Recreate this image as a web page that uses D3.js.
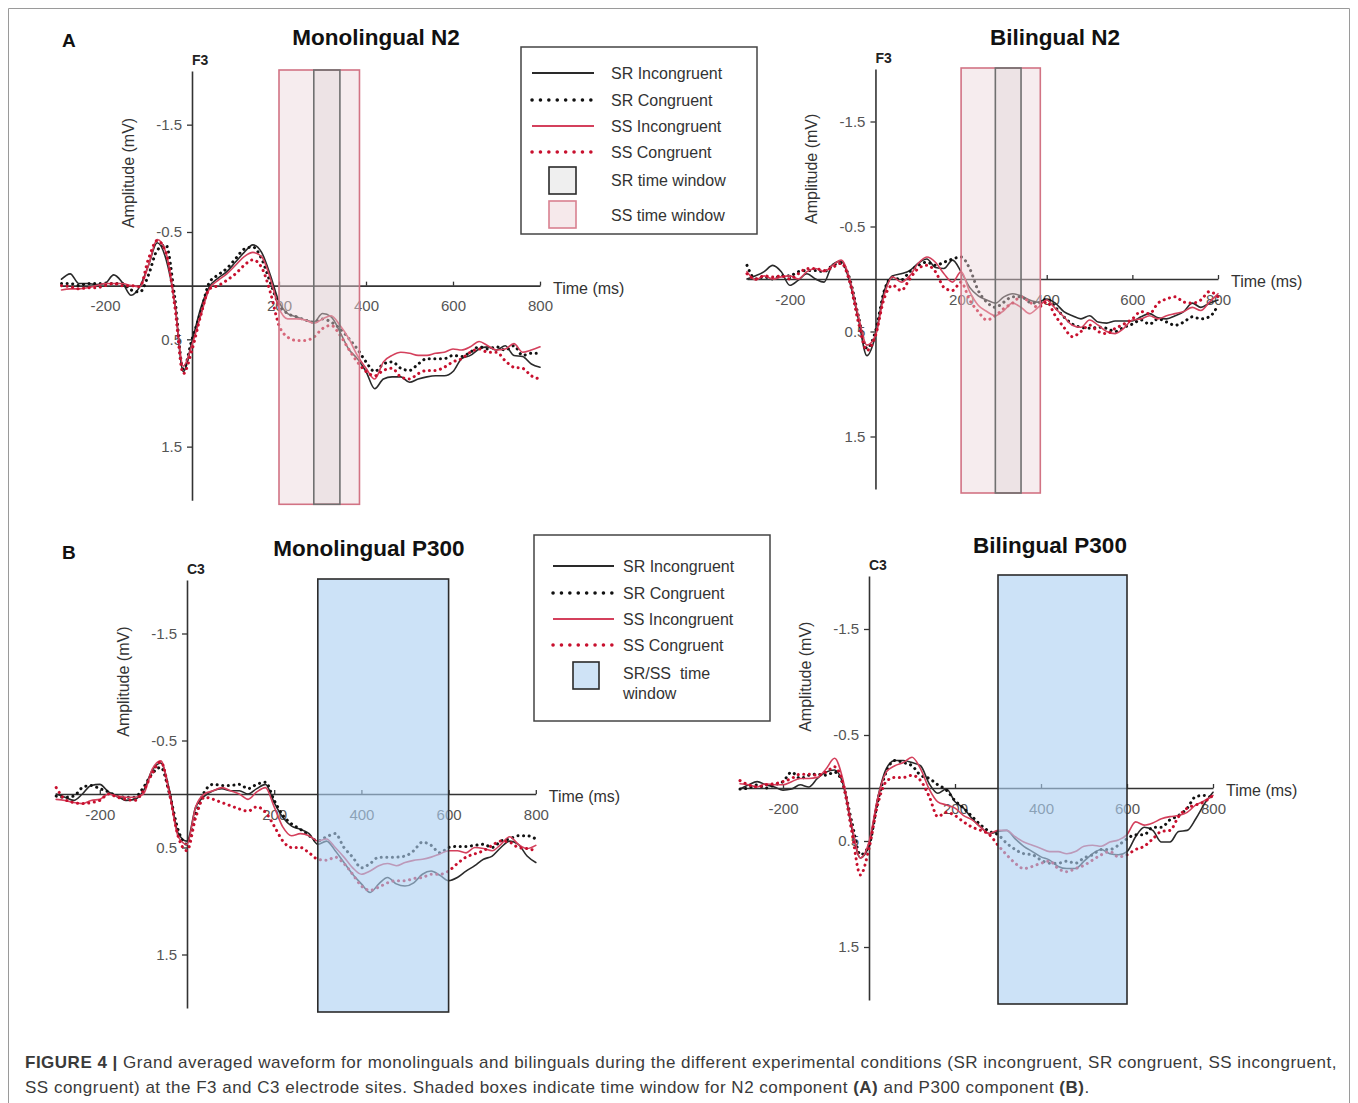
<!DOCTYPE html>
<html>
<head>
<meta charset="utf-8">
<script src="https://cdn.jsdelivr.net/npm/d3@7"></script>
<style>
  body { margin: 0; background: #fff; }
  svg text { font-family: "Liberation Sans", Arial, Helvetica, sans-serif; }
</style>
</head>
<body>
<svg id="fig" width="1358" height="1103"></svg>
<script>
// time points (ms)
const times = [-300,-280,-260,-240,-220,-200,-180,-160,-140,-120,-100,-80,-60,-40,-20,0,20,40,60,80,
  100,120,140,160,180,200,220,240,260,280,300,320,340,360,380,400,420,440,460,480,
  500,520,540,560,580,600,620,640,660,680,700,720,740,760,780,800];

const xTicks = [-200, 200, 400, 600, 800];
const yTicks = [-1.5, -0.5, 0.5, 1.5];
const seriesNames = ['SR Incongruent', 'SR Congruent', 'SS Incongruent', 'SS Congruent'];

// time windows (ms)
const srWindowN2 = [280, 340];
const ssWindowN2 = [200, 385];
const windowP300 = [300, 600];

// Monolingual N2 (F3), amplitude in mV (negative up)
const monoN2SrInc = [-0.06,-0.11,-0.02,-0.02,-0.01,-0.02,-0.1,-0.03,0.09,0.01,
  -0.19,-0.4,-0.25,0.15,0.8,0.52,0.21,0.01,-0.07,-0.13,
  -0.22,-0.31,-0.38,-0.31,-0.1,0.15,0.26,0.29,0.32,0.34,
  0.26,0.29,0.43,0.59,0.68,0.8,0.96,0.87,0.85,0.85,
  0.9,0.87,0.85,0.84,0.84,0.8,0.68,0.65,0.59,0.57,
  0.6,0.56,0.65,0.66,0.73,0.76];
const monoN2SrCon = [-0.02,-0.02,0,-0.02,-0.02,-0.02,-0.02,-0.02,0.04,0.06,
  -0.1,-0.33,-0.38,0.1,0.78,0.5,0.25,-0.03,-0.1,-0.16,
  -0.25,-0.34,-0.36,-0.25,-0.03,0.18,0.26,0.29,0.32,0.34,
  0.31,0.34,0.4,0.49,0.59,0.71,0.8,0.73,0.71,0.77,
  0.79,0.73,0.68,0.68,0.68,0.65,0.66,0.62,0.57,0.59,
  0.57,0.6,0.56,0.65,0.63,0.63];
const monoN2SsInc = [0.04,0.03,0.03,0.02,0,-0.02,-0.02,-0.02,0,0.01,
  -0.19,-0.43,-0.31,0.15,0.75,0.55,0.28,0.03,-0.05,-0.11,
  -0.19,-0.27,-0.31,-0.27,-0.07,0.21,0.31,0.31,0.32,0.35,
  0.31,0.28,0.37,0.49,0.65,0.77,0.87,0.71,0.65,0.62,
  0.63,0.65,0.65,0.63,0.62,0.59,0.6,0.57,0.52,0.56,
  0.6,0.59,0.54,0.62,0.6,0.57];
const monoN2SsCon = [0,0.01,0.03,0.02,0.02,0,-0.02,0,0,0.01,
  -0.25,-0.42,-0.31,0.18,0.82,0.6,0.28,0.03,0,-0.05,
  -0.11,-0.19,-0.24,-0.17,0.06,0.37,0.48,0.51,0.51,0.48,
  0.4,0.37,0.46,0.59,0.71,0.8,0.84,0.79,0.77,0.85,
  0.87,0.82,0.79,0.79,0.76,0.71,0.68,0.62,0.59,0.62,
  0.62,0.7,0.76,0.77,0.84,0.87];

// Bilingual N2 (F3)
const biN2SrInc = [0,-0.03,-0.07,-0.13,-0.07,0.06,0.01,-0.05,0,0.03,
  -0.14,-0.17,0.03,0.38,0.73,0.54,0.12,-0.03,-0.05,-0.08,
  -0.15,-0.19,-0.11,-0.1,-0.18,-0.07,0.08,0.16,0.2,0.23,
  0.17,0.14,0.16,0.2,0.22,0.19,0.23,0.31,0.35,0.38,
  0.35,0.41,0.42,0.4,0.4,0.4,0.36,0.33,0.37,0.38,
  0.35,0.31,0.23,0.27,0.23,0.2];
const biN2SrCon = [-0.13,0,-0.02,0,-0.03,-0.03,-0.07,-0.08,-0.08,-0.07,
  -0.13,-0.15,0,0.35,0.66,0.5,0.12,-0.02,0.01,-0.07,
  -0.13,-0.16,-0.13,-0.16,-0.19,-0.21,-0.1,0.11,0.22,0.27,
  0.22,0.17,0.17,0.22,0.23,0.19,0.27,0.36,0.43,0.46,
  0.47,0.46,0.47,0.5,0.46,0.43,0.39,0.43,0.38,0.41,
  0.44,0.41,0.36,0.38,0.36,0.25];
const biN2SsInc = [-0.07,0.01,-0.03,0,-0.02,-0.03,0,-0.07,-0.1,-0.07,
  -0.13,-0.18,0,0.35,0.63,0.54,0.16,-0.02,0.03,-0.03,
  -0.15,-0.21,-0.16,-0.05,0.03,-0.07,0.12,0.25,0.31,0.35,
  0.3,0.23,0.27,0.33,0.27,0.2,0.28,0.36,0.44,0.46,
  0.39,0.44,0.5,0.52,0.47,0.39,0.38,0.35,0.38,0.35,
  0.33,0.31,0.27,0.3,0.22,0.14];
const biN2SsCon = [-0.05,0,-0.03,-0.02,-0.03,0,-0.05,-0.1,-0.1,-0.08,
  -0.11,-0.15,0.03,0.41,0.68,0.54,0.19,0.06,0.11,0,
  -0.1,-0.13,-0.07,0.08,0.11,0.03,0.2,0.31,0.39,0.35,
  0.28,0.23,0.17,0.22,0.27,0.22,0.35,0.46,0.55,0.5,
  0.44,0.5,0.52,0.47,0.43,0.38,0.31,0.33,0.23,0.19,
  0.17,0.22,0.23,0.2,0.12,0.17];

// Monolingual P300 (C3)
const monoP3SrInc = [0,0.03,0.06,0,-0.08,-0.09,-0.02,0.02,0.06,0.05,
  -0.03,-0.22,-0.29,-0.03,0.37,0.44,0.12,0.02,-0.03,-0.05,
  -0.03,-0.03,0,-0.05,-0.09,0.08,0.22,0.3,0.33,0.37,
  0.47,0.44,0.53,0.64,0.75,0.84,0.92,0.84,0.78,0.84,
  0.86,0.83,0.75,0.72,0.76,0.81,0.78,0.72,0.67,0.61,
  0.58,0.5,0.44,0.47,0.58,0.64];
const monoP3SrCon = [0.02,0.03,0.02,-0.06,-0.08,-0.05,-0.02,0.02,0.03,0.03,
  -0.06,-0.19,-0.25,0,0.34,0.47,0.19,-0.02,-0.09,-0.08,
  -0.08,-0.09,-0.05,-0.09,-0.11,0.06,0.2,0.28,0.33,0.39,
  0.44,0.4,0.37,0.5,0.59,0.69,0.65,0.59,0.59,0.59,
  0.58,0.53,0.45,0.48,0.55,0.5,0.49,0.49,0.48,0.47,
  0.5,0.44,0.42,0.39,0.39,0.42];
const monoP3SsInc = [0.05,0.06,0.08,0.09,0.06,0.05,0,0.02,0.03,0.03,
  0,-0.23,-0.31,0,0.4,0.47,0.12,0,-0.03,-0.06,
  -0.03,0,0.05,-0.02,-0.06,0.12,0.31,0.39,0.37,0.39,
  0.44,0.42,0.5,0.59,0.69,0.75,0.72,0.67,0.65,0.67,
  0.64,0.62,0.61,0.59,0.56,0.53,0.53,0.55,0.5,0.51,
  0.53,0.47,0.4,0.47,0.51,0.48];
const monoP3SsCon = [-0.06,0.05,0.08,0.09,0.08,0.06,0,0.03,0.05,0.06,
  -0.03,-0.19,-0.3,0,0.4,0.53,0.22,0.03,0.05,0.08,
  0.11,0.14,0.16,0.12,0.17,0.3,0.44,0.5,0.5,0.55,
  0.61,0.62,0.59,0.65,0.75,0.86,0.9,0.87,0.83,0.81,
  0.81,0.79,0.78,0.75,0.75,0.72,0.65,0.59,0.56,0.53,
  0.48,0.44,0.45,0.5,0.51,0.53];

// Bilingual P300 (C3)
const biP3SrInc = [0.01,-0.03,-0.06,-0.03,-0.01,0.02,0.01,-0.03,-0.01,-0.09,
  -0.15,-0.17,-0.03,0.38,0.66,0.54,0.1,-0.18,-0.26,-0.26,
  -0.24,-0.21,-0.04,0.05,0.01,0.13,0.19,0.29,0.37,0.43,
  0.41,0.4,0.48,0.55,0.6,0.65,0.68,0.74,0.76,0.76,
  0.69,0.62,0.58,0.62,0.63,0.6,0.46,0.37,0.4,0.51,
  0.51,0.41,0.4,0.29,0.15,0.04];
const biP3SrCon = [0.01,0,-0.03,0,-0.03,-0.06,-0.15,-0.09,-0.12,-0.13,
  -0.12,-0.15,-0.03,0.32,0.63,0.54,0.13,-0.15,-0.26,-0.24,
  -0.21,-0.12,-0.09,-0.03,0.02,0.12,0.19,0.27,0.35,0.41,
  0.44,0.52,0.58,0.62,0.63,0.68,0.71,0.71,0.69,0.71,
  0.66,0.63,0.58,0.58,0.54,0.48,0.44,0.44,0.37,0.37,
  0.3,0.26,0.19,0.08,0.07,0.1];
const biP3SsInc = [-0.04,-0.03,-0.01,-0.04,-0.03,-0.03,-0.06,-0.09,-0.09,-0.1,
  -0.18,-0.28,-0.07,0.35,0.66,0.51,0.1,-0.15,-0.21,-0.24,
  -0.29,-0.18,0.01,0.13,0.16,0.19,0.26,0.3,0.37,0.43,
  0.4,0.4,0.46,0.51,0.54,0.57,0.6,0.6,0.62,0.6,
  0.55,0.54,0.55,0.51,0.49,0.44,0.32,0.35,0.33,0.29,
  0.27,0.26,0.23,0.16,0.12,0.07];
const biP3SsCon = [-0.07,-0.03,-0.01,-0.03,-0.04,-0.06,-0.09,-0.13,-0.13,-0.12,
  -0.15,-0.2,-0.03,0.41,0.82,0.57,0.16,-0.06,-0.1,-0.1,
  -0.12,-0.07,0.08,0.27,0.23,0.26,0.32,0.37,0.4,0.44,
  0.54,0.63,0.71,0.76,0.74,0.71,0.69,0.76,0.79,0.76,
  0.73,0.68,0.63,0.6,0.65,0.63,0.58,0.55,0.48,0.41,
  0.4,0.27,0.19,0.16,0.13,0.07];

const lineStyles = [
  { stroke: '#2a2a2a', width: 1.6, dash: null },
  { stroke: '#111111', width: 3, dash: '0.1 5.5' },
  { stroke: '#d4405c', width: 1.6, dash: null },
  { stroke: '#c8102e', width: 3, dash: '0.1 5.5' }
];

const pinkWin = { fill: 'rgb(236,212,217)', opacity: 0.45, stroke: '#d27384' };
const grayWin = { fill: 'rgb(150,140,142)', opacity: 0.09, stroke: '#707070' };
const blueWin = { fill: 'rgb(172,208,242)', opacity: 0.62, stroke: '#2b2b2b' };

const svg = d3.select('#fig');

// figure frame
svg.append('path')
  .attr('d', 'M8.5,1103V8.5H1349.5V1103')
  .attr('fill', 'none')
  .attr('stroke', '#9a9a9a')
  .attr('stroke-width', 1);

const panels = [
  { title: 'Monolingual N2', electrode: 'F3', xr: [61.5, 540], yr: [71, 500.3], tx: 376, ty: 45,
    data: [monoN2SrInc, monoN2SrCon, monoN2SsInc, monoN2SsCon],
    wins: [[ssWindowN2, pinkWin], [srWindowN2, grayWin]] },
  { title: 'Bilingual N2', electrode: 'F3', xr: [747, 1218], yr: [69, 489], tx: 1055, ty: 45,
    data: [biN2SrInc, biN2SrCon, biN2SsInc, biN2SsCon],
    wins: [[ssWindowN2, pinkWin], [srWindowN2, grayWin]] },
  { title: 'Monolingual P300', electrode: 'C3', xr: [56.2, 535.8], yr: [580, 1008], tx: 369, ty: 556,
    data: [monoP3SrInc, monoP3SrCon, monoP3SsInc, monoP3SsCon],
    wins: [[windowP300, blueWin]] },
  { title: 'Bilingual P300', electrode: 'C3', xr: [740, 1213], yr: [576, 1000], tx: 1050, ty: 553,
    data: [biP3SrInc, biP3SrCon, biP3SsInc, biP3SsCon],
    wins: [[windowP300, blueWin]] }
];

panels.forEach(p => {
  const x = d3.scaleLinear().domain([-300, 800]).range(p.xr);
  const y = d3.scaleLinear().domain([-2, 2]).range(p.yr);
  const g = svg.append('g');

  // y axis at time 0
  const yAx = g.append('g')
    .attr('transform', 'translate(' + x(0) + ',0)')
    .call(d3.axisLeft(y).tickValues(yTicks).tickSize(5).tickSizeOuter(0).tickPadding(5)
      .tickFormat(d => d.toFixed(1)));
  // x axis at amplitude 0
  const xAx = g.append('g')
    .attr('transform', 'translate(0,' + y(0) + ')')
    .call(d3.axisBottom(x).tickValues(xTicks).tickSizeInner(-4).tickSizeOuter(0).tickPadding(15)
      .tickFormat(d => String(d)));
  [yAx, xAx].forEach(a => {
    a.select('.domain').attr('stroke', '#333').attr('stroke-width', 1.6);
    a.selectAll('.tick line').attr('stroke', '#333').attr('stroke-width', 1.3);
    a.selectAll('.tick text').attr('fill', '#555').style('font-size', '15px');
  });

  g.append('text')
    .attr('x', x(800) + 13).attr('y', y(0) + 8)
    .attr('fill', '#333').style('font-size', '16px')
    .text('Time (ms)');

  g.append('text')
    .attr('transform', 'translate(' + (x(0) - 58) + ',' + y(-1.05) + ') rotate(-90)')
    .attr('text-anchor', 'middle')
    .attr('fill', '#333').style('font-size', '16px')
    .text('Amplitude (mV)');

  g.append('text')
    .attr('x', x(0)).attr('y', y(-2) - 6)
    .style('font-size', '14px').style('font-weight', 'bold').attr('fill', '#222')
    .text(p.electrode);

  g.append('text')
    .attr('x', p.tx).attr('y', p.ty)
    .attr('text-anchor', 'middle')
    .style('font-size', '22.5px').style('font-weight', 'bold').attr('fill', '#111')
    .text(p.title);

  const line = d3.line()
    .x((d, i) => x(times[i]))
    .y(d => y(d))
    .curve(d3.curveMonotoneX);

  p.data.forEach((s, k) => {
    const st = lineStyles[k];
    g.append('path')
      .datum(s)
      .attr('d', line)
      .attr('fill', 'none')
      .attr('stroke', st.stroke)
      .attr('stroke-width', st.width)
      .attr('stroke-linecap', 'round')
      .attr('stroke-linejoin', 'round')
      .attr('stroke-dasharray', st.dash);
  });

  // shaded windows on top of the waveforms
  p.wins.forEach(([w, st]) => {
    g.append('rect')
      .attr('x', x(w[0])).attr('y', y(-2) - 1)
      .attr('width', x(w[1]) - x(w[0]))
      .attr('height', y(2) - y(-2) + 5)
      .attr('fill', st.fill).attr('fill-opacity', st.opacity)
      .attr('stroke', st.stroke).attr('stroke-width', 1.6);
  });
});

// legends
function legendLines(g, x1, x2, xt, ys) {
  seriesNames.forEach((name, k) => {
    const st = lineStyles[k];
    g.append('line')
      .attr('x1', x1).attr('x2', x2).attr('y1', ys[k]).attr('y2', ys[k])
      .attr('stroke', st.stroke)
      .attr('stroke-width', st.dash ? 3.5 : 2)
      .attr('stroke-linecap', st.dash ? 'round' : 'butt')
      .attr('stroke-dasharray', st.dash ? '0.1 8.3' : null);
    g.append('text')
      .attr('x', xt).attr('y', ys[k]).attr('dy', '0.35em')
      .attr('fill', '#333').style('font-size', '16px')
      .text(name);
  });
}

const legA = svg.append('g');
legA.append('rect').attr('x', 521).attr('y', 47).attr('width', 236).attr('height', 187)
  .attr('fill', '#fff').attr('stroke', '#444').attr('stroke-width', 1.5);
legendLines(legA, 532, 594, 611, [73, 100, 126, 152]);
legA.append('rect').attr('x', 549).attr('y', 167).attr('width', 27).attr('height', 27)
  .attr('fill', '#efefef').attr('stroke', '#2a2a2a').attr('stroke-width', 1.6);
legA.append('text').attr('x', 611).attr('y', 180).attr('dy', '0.35em')
  .attr('fill', '#333').style('font-size', '16px').text('SR time window');
legA.append('rect').attr('x', 549).attr('y', 201).attr('width', 27).attr('height', 27)
  .attr('fill', '#f6e9eb').attr('stroke', '#d98090').attr('stroke-width', 1.6);
legA.append('text').attr('x', 611).attr('y', 215).attr('dy', '0.35em')
  .attr('fill', '#333').style('font-size', '16px').text('SS time window');

const legB = svg.append('g');
legB.append('rect').attr('x', 534).attr('y', 535).attr('width', 236).attr('height', 186)
  .attr('fill', '#fff').attr('stroke', '#444').attr('stroke-width', 1.5);
legendLines(legB, 553, 614, 623, [566, 593, 619, 645]);
legB.append('rect').attr('x', 573).attr('y', 662).attr('width', 26).attr('height', 27)
  .attr('fill', '#cfe3f6').attr('stroke', '#2a2a2a').attr('stroke-width', 1.6);
legB.append('text').attr('x', 623).attr('y', 673).attr('dy', '0.35em')
  .attr('fill', '#333').style('font-size', '16px').attr('xml:space', 'preserve').text('SR/SS  time');
legB.append('text').attr('x', 623).attr('y', 693).attr('dy', '0.35em')
  .attr('fill', '#333').style('font-size', '16px').text('window');

// panel letters
svg.append('text').attr('x', 62).attr('y', 47).style('font-size', '19px').style('font-weight', 'bold')
  .attr('fill', '#111').text('A');
svg.append('text').attr('x', 62).attr('y', 559).style('font-size', '19px').style('font-weight', 'bold')
  .attr('fill', '#111').text('B');

// caption
const cap1 = svg.append('text').attr('x', 25).attr('y', 1068).attr('fill', '#3a3a3a')
  .style('font-size', '17px').style('letter-spacing', '0.5px');
cap1.append('tspan').style('font-weight', 'bold').text('FIGURE 4 |');
cap1.append('tspan').text(' Grand averaged waveform for monolinguals and bilinguals during the different experimental conditions (SR incongruent, SR congruent, SS incongruent,');
const cap2 = svg.append('text').attr('x', 25).attr('y', 1093).attr('fill', '#3a3a3a')
  .style('font-size', '17px').style('letter-spacing', '0.5px');
cap2.append('tspan').text('SS congruent) at the F3 and C3 electrode sites. Shaded boxes indicate time window for N2 component ');
cap2.append('tspan').style('font-weight', 'bold').text('(A)');
cap2.append('tspan').text(' and P300 component ');
cap2.append('tspan').style('font-weight', 'bold').text('(B)');
cap2.append('tspan').text('.');
</script>
</body>
</html>
